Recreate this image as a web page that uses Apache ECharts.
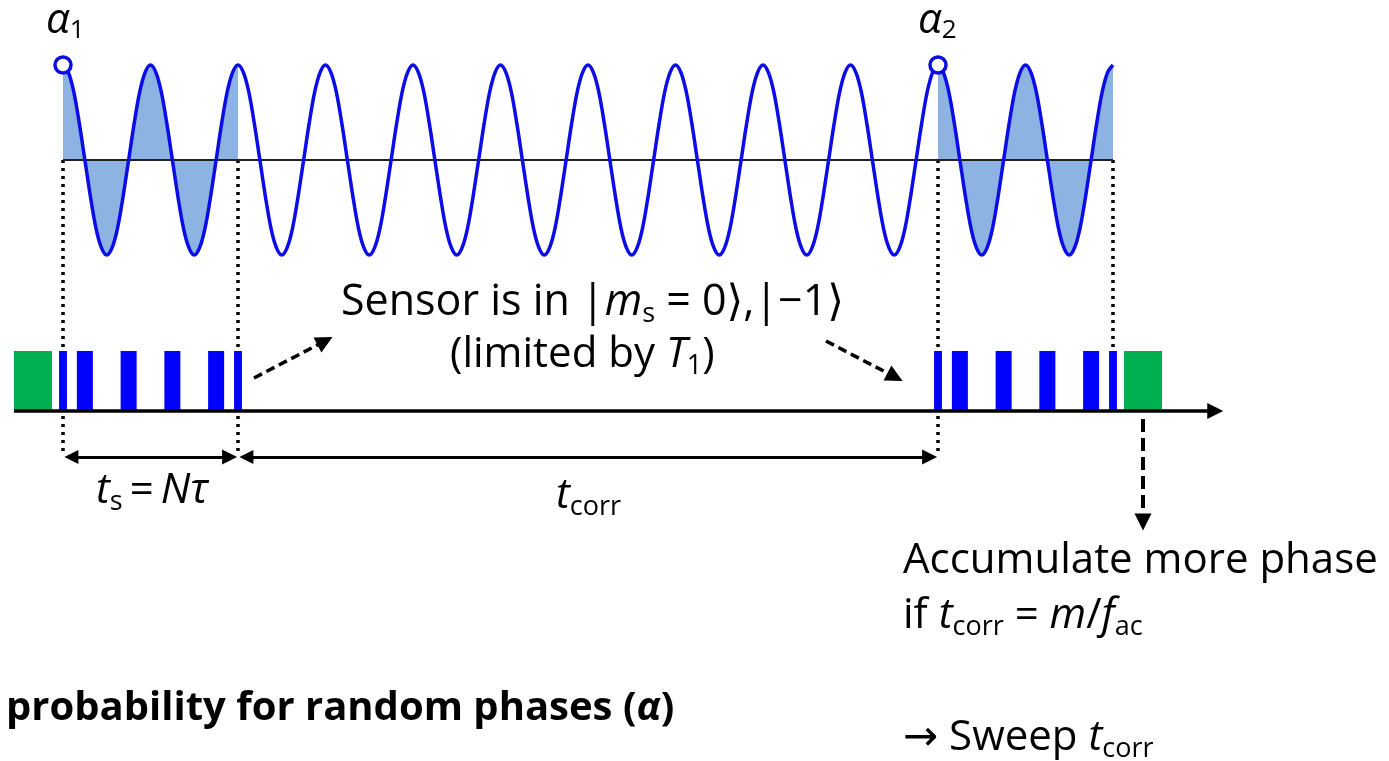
<!DOCTYPE html>
<html><head><meta charset="utf-8">
<script src="https://cdn.jsdelivr.net/npm/echarts@6/dist/echarts.min.js"></script>
<style>html,body{margin:0;padding:0;background:#fff}#c{width:1389px;height:761px}</style>
</head><body><div id="c"></div>
<script>
// ---------------- DATA (diagram units: time in AC periods, amplitude normalised) ----------------
const cycleShape = [1, 0.92, 0.71, 0.38, 0, -0.38, -0.71, -0.92, -1, -0.92, -0.71, -0.38, 0, 0.38, 0.71, 0.92];
const waveCycles = 12;                       // periods drawn
const shadedWindows = [[0, 2], [10, 12]];    // sensing windows (shaded)
const phaseMarkerTimes = [0, 10];            // alpha1, alpha2
const phaseMarkerSubs = ['1', '2'];
const piHalfPulseTimes = [0, 2, 10, 12];
const piPulseTimes = [0.25, 0.75, 1.25, 1.75, 10.25, 10.75, 11.25, 11.75];
const piHalfDuration = 0.09;
const piDuration = 0.183;
const laserPulseSpans = [[-0.56, -0.126], [12.126, 12.56]];
const spanArrows = [[0, 2], [2, 10]];        // t_s , t_corr
const fullGuideTimes = [0, 2, 10];
const upperGuideTimes = [12];
const timeAxisEnd = 13.26;

// ---------------- LAYOUT ----------------
const W = 1389, H = 761;
const PX_T = 87.5, X0 = 63;   // px per period, px of t=0
const PX_Y = 95, Y0 = 160;    // px per unit amplitude, px of baseline
const yOf = px => (Y0 - px) / PX_Y;
const tOf = px => (px - X0) / PX_T;
const AXIS_Y = yOf(411);
const PULSE_TOP = yOf(351);
const GUIDE_BOTTOM = yOf(454);
const SPAN_Y = yOf(457);

const WAVE = '#0c0ce6', FILL = '#8db3e2', BAR = '#0000ff', GREEN = '#00b050';
const F = "'Open Sans','DejaVu Sans',sans-serif";

// wave points
const wave = [];
for (let c = 0; c < waveCycles; c++) {
  cycleShape.forEach((v, k) => wave.push([c + k / cycleShape.length, v]));
}
wave.push([waveCycles, cycleShape[0]]);
const inWin = w => wave.filter(p => p[0] >= w[0] - 1e-9 && p[0] <= w[1] + 1e-9);

// pulses
const pulseData = [];
laserPulseSpans.forEach(s => pulseData.push({value: [s[0], s[1], AXIS_Y, PULSE_TOP], itemStyle: {color: GREEN}}));
piHalfPulseTimes.forEach(t => pulseData.push({value: [t - piHalfDuration / 2, t + piHalfDuration / 2, AXIS_Y, PULSE_TOP], itemStyle: {color: BAR}}));
piPulseTimes.forEach(t => pulseData.push({value: [t - piDuration / 2, t + piDuration / 2, AXIS_Y, PULSE_TOP], itemStyle: {color: BAR}}));

const guides = fullGuideTimes.map(t => ({coords: [[t, 0], [t, GUIDE_BOTTOM]]}))
  .concat(upperGuideTimes.map(t => ({coords: [[t, 0], [t, PULSE_TOP]]})));

const headLen = 15 / PX_T;
const spans = spanArrows.map(s => ({coords: [[s[0] + headLen / 2 + 0.01, SPAN_Y], [s[1] - headLen / 2 - 0.01, SPAN_Y]]}));

const series = [];
shadedWindows.forEach(w => series.push({
  type: 'line', data: inWin(w), smooth: 0.35, showSymbol: false, silent: true,
  lineStyle: {width: 0, opacity: 0}, areaStyle: {color: FILL, opacity: 1}, z: 1
}));
series.push({type: 'line', data: [[0, 0], [waveCycles, 0]], showSymbol: false, silent: true,
  lineStyle: {color: '#222', width: 2}, z: 2});
series.push({type: 'line', data: wave, smooth: 0.35, showSymbol: false, silent: true,
  lineStyle: {color: WAVE, width: 3.5}, z: 3});
series.push({type: 'lines', coordinateSystem: 'cartesian2d', data: guides, silent: true,
  lineStyle: {color: '#000', width: 3.5, type: [3, 5], opacity: 1}, z: 2});
series.push({type: 'custom', data: pulseData, silent: true, z: 4,
  encode: {x: [0, 1], y: [2, 3]},
  renderItem: (params, api) => {
    const a = api.coord([api.value(0), api.value(3)]);
    const b = api.coord([api.value(1), api.value(2)]);
    return {type: 'rect', shape: {x: a[0], y: a[1], width: b[0] - a[0], height: b[1] - a[1]}, style: api.style()};
  }});
// time axis arrow
series.push({type: 'lines', coordinateSystem: 'cartesian2d', silent: true, z: 5,
  symbol: ['none', 'triangle'], symbolSize: [16, 16],
  data: [{coords: [[tOf(14), AXIS_Y], [timeAxisEnd - 8 / PX_T, AXIS_Y]]}],
  lineStyle: {color: '#000', width: 3.5, opacity: 1}});
// span arrows
series.push({type: 'lines', coordinateSystem: 'cartesian2d', silent: true, z: 5,
  symbol: ['triangle', 'triangle'], symbolSize: [14, 15], data: spans,
  lineStyle: {color: '#000', width: 3, opacity: 1}});
// dashed pointer arrows
series.push({type: 'lines', coordinateSystem: 'cartesian2d', silent: true, z: 5,
  symbol: ['none', 'triangle'], symbolSize: [16, 17],
  data: [
    {coords: [[tOf(254), yOf(378)], [tOf(325), yOf(341)]]},
    {coords: [[tOf(826), yOf(341)], [tOf(895), yOf(377)]]}
  ],
  lineStyle: {color: '#000', width: 3.5, type: [9, 5], opacity: 1}});
series.push({type: 'lines', coordinateSystem: 'cartesian2d', silent: true, z: 5,
  symbol: ['none', 'triangle'], symbolSize: [17, 17],
  data: [{coords: [[tOf(1143), yOf(419)], [tOf(1143), yOf(522)]]}],
  lineStyle: {color: '#000', width: 4, type: [13, 6], opacity: 1}});
// phase markers
series.push({type: 'scatter', silent: true, z: 6, symbol: 'circle', symbolSize: 16,
  data: phaseMarkerTimes.map(t => [t, 1]),
  itemStyle: {color: '#fff', borderColor: WAVE, borderWidth: 3.5, opacity: 1}});

const FS = 42, LH = 50;
const rich = {
  n: {fontFamily: F, fontSize: FS, lineHeight: LH, fill: '#000'},
  i: {fontFamily: F, fontSize: FS, lineHeight: LH, fontStyle: 'italic', fill: '#000'},
  s: {fontFamily: F, fontSize: 27, lineHeight: 12, verticalAlign: 'bottom', fill: '#000'},
  N: {fontFamily: F, fontSize: 43, lineHeight: LH, fill: '#000'},
  I: {fontFamily: F, fontSize: 43, lineHeight: LH, fontStyle: 'italic', fill: '#000'},
  b: {fontFamily: F, fontSize: 40, lineHeight: 46, fontWeight: 'bold', fill: '#000'},
  bi: {fontFamily: F, fontSize: 40, lineHeight: 46, fontWeight: 'bold', fontStyle: 'italic', fill: '#000'},
  a: {fontFamily: F, fontSize: 42, lineHeight: 46, fontStyle: 'italic', fill: '#000'},
  as: {fontFamily: F, fontSize: 26, lineHeight: 12, verticalAlign: 'bottom', fill: '#000'}
};
const txt = (x, baseline, text, lh) => ({
  type: 'text', x: x, y: baseline - lh, silent: true,
  style: {text: text, rich: rich, verticalAlign: 'top', align: 'left'}
});

const graphic = [
  txt(46, 36, '{a|α}{as|' + phaseMarkerSubs[0] + '}', 38),
  txt(918, 36, '{a|α}{as|' + phaseMarkerSubs[1] + '}', 38),
  txt(341, 318, '{N|Sensor is in |}{I|m}{s|s}{N| = 0⟩,|−1⟩}', 40),
  txt(450, 370, '{n|(limited by }{i|T}{s|1}{n|)}', 40),
  txt(96, 506, '{i|t}{s|s}{n|\u2009=\u2009}{i|Nτ}', 40),
  txt(556, 511, '{i|t}{s|corr}', 40),
  txt(903, 576, '{n|Accumulate more phase}', 40),
  txt(903, 631, '{n|if }{i|t}{s|corr}{n| = }{i|m}{n|/}{i|f}{s|ac}', 40),
  txt(903, 753, '{n|→ Sweep }{i|t}{s|corr}', 40),
  txt(6, 723, '{b|probability for random phases (}{bi|α}{b|)}', 37)
];

const chart = echarts.init(document.getElementById('c'), null, {renderer: 'canvas'});
chart.setOption({
  animation: false,
  backgroundColor: '#fff',
  grid: {left: 0, right: 0, top: 0, bottom: 0},
  xAxis: {type: 'value', min: -X0 / PX_T, max: (W - X0) / PX_T, show: false},
  yAxis: {type: 'value', min: -(H - Y0) / PX_Y, max: Y0 / PX_Y, show: false},
  series: series,
  graphic: graphic
});
</script></body></html>
